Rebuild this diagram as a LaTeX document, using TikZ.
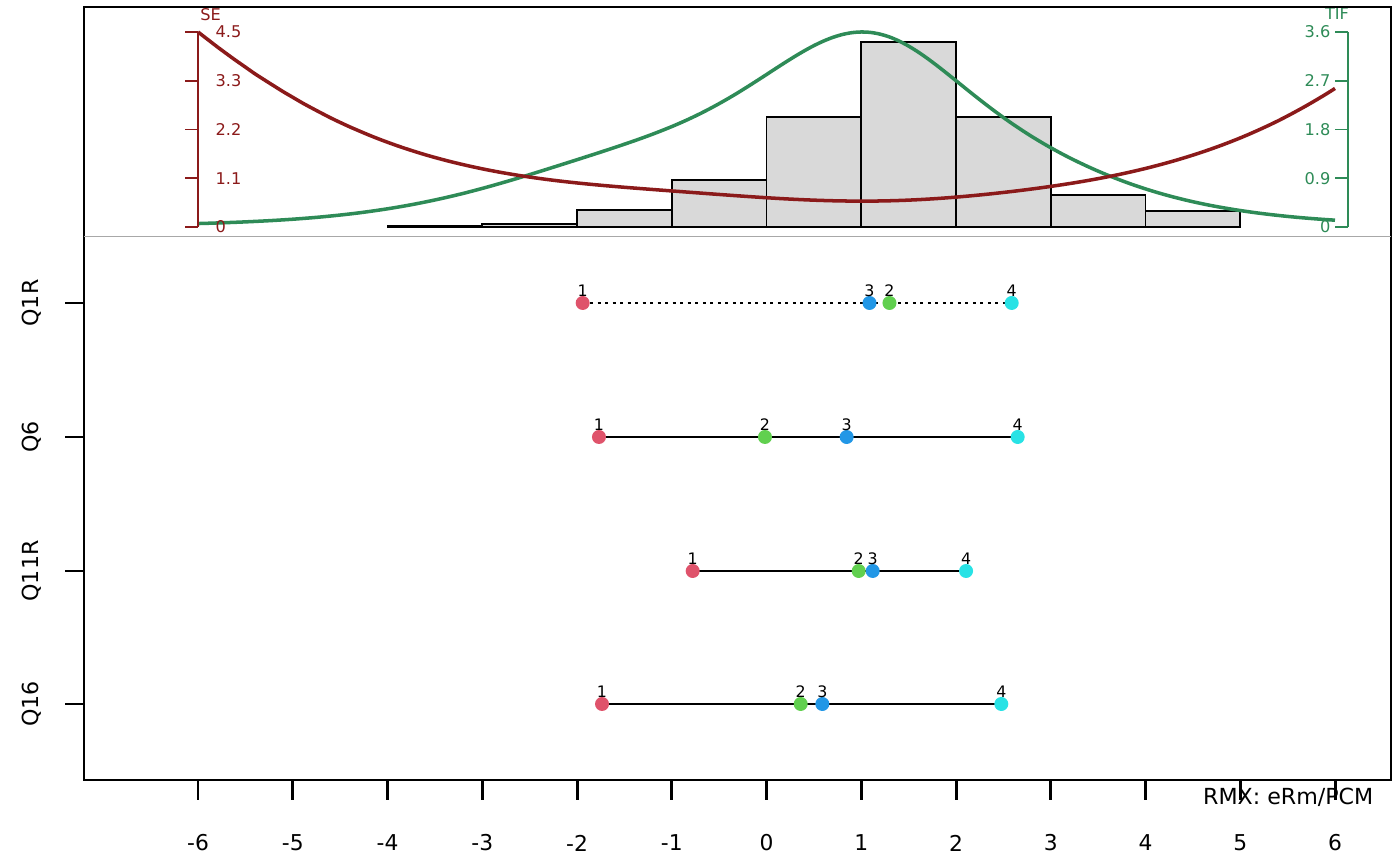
\documentclass[tikz,border=0pt]{standalone}
\usepackage{fontspec}
\setmainfont{DejaVu Sans}
\definecolor{cone}{HTML}{DF536B}
\definecolor{ctwo}{HTML}{61D04F}
\definecolor{cthree}{HTML}{2297E6}
\definecolor{cfour}{HTML}{28E2E5}
\definecolor{secol}{HTML}{8B1A1A}
\definecolor{tifcol}{HTML}{2E8B57}
\definecolor{histfill}{HTML}{D9D9D9}
\definecolor{sepgray}{HTML}{A8A8A8}
\newcommand\X[1]{766.5+94.75*(#1)}
% adds the PCM item information (score variance) at theta #1 to \tifacc
\newcommand\addivar[5]{%
  \pgfmathsetmacro\vA{(#1)-(#2)}%
  \pgfmathsetmacro\vB{\vA+(#1)-(#3)}%
  \pgfmathsetmacro\vC{\vB+(#1)-(#4)}%
  \pgfmathsetmacro\vD{\vC+(#1)-(#5)}%
  \pgfmathsetmacro\vM{max(0,\vA,\vB,\vC,\vD)}%
  \pgfmathsetmacro\eZ{exp(max(0-\vM,-9))}%
  \pgfmathsetmacro\eA{exp(max(\vA-\vM,-9))}%
  \pgfmathsetmacro\eB{exp(max(\vB-\vM,-9))}%
  \pgfmathsetmacro\eC{exp(max(\vC-\vM,-9))}%
  \pgfmathsetmacro\eD{exp(max(\vD-\vM,-9))}%
  \pgfmathsetmacro\eS{\eZ+\eA+\eB+\eC+\eD}%
  \pgfmathsetmacro\eMu{(\eA+2*\eB+3*\eC+4*\eD)/\eS}%
  \pgfmathsetmacro\eVar{(\eZ*(\eMu)^2+\eA*(1-\eMu)^2+\eB*(2-\eMu)^2+\eC*(3-\eMu)^2+\eD*(4-\eMu)^2)/\eS}%
  \pgfmathsetmacro\tifacc{\tifacc+\eVar}%
  \global\let\tifacc\tifacc
}
\begin{document}
\begin{tikzpicture}[x=0.01cm,y=-0.01cm,
  plotframe/.style={line width=0.55pt},
  histbar/.style={draw=black,fill=histfill,line width=0.5pt},
  securve/.style={draw=secol,line width=1pt,line join=round},
  tifcurve/.style={draw=tifcol,line width=1pt,line join=round},
  seaxis/.style={draw=secol,line width=0.5pt},
  tifaxis/.style={draw=tifcol,line width=0.5pt},
  selab/.style={text=secol,font=\fontsize{4.6}{5}\selectfont,inner sep=0},
  tiflab/.style={text=tifcol,font=\fontsize{4.6}{5}\selectfont,inner sep=0},
  axtick/.style={line width=0.85pt},
  ticklab/.style={font=\fontsize{6.2}{7}\selectfont,inner sep=0},
  itemlab/.style={font=\fontsize{6.3}{7}\selectfont,rotate=90,inner sep=0},
  thrpt/.style={circle,inner sep=0,minimum size=0.14cm},
  thrlab/.style={font=\fontsize{4.5}{5}\selectfont,inner sep=0,anchor=base},
  thrline/.style={line width=0.7pt},
  disordered/.style={line width=0.7pt,dash pattern=on 0.03cm off 0.045cm}]
\useasboundingbox (0,0) rectangle (1400,865);

% ---- test information and standard error ----
\gdef\tifmax{0}
\foreach \i in {0,...,120}{%
  \pgfmathsetmacro\thv{-6+\i/10}%
  \gdef\tifacc{0}%
  \addivar{\thv}{-1.940}{1.298}{1.087}{2.588}%
  \addivar{\thv}{-1.768}{-0.016}{0.846}{2.651}%
  \addivar{\thv}{-0.779}{0.973}{1.121}{2.106}%
  \addivar{\thv}{-1.736}{0.361}{0.589}{2.478}%
  \expandafter\xdef\csname tifv\i\endcsname{\tifacc}%
  \pgfmathsetmacro\tmpm{max(\tifmax,\tifacc)}%
  \global\let\tifmax\tmpm
}
\pgfmathsetmacro\semax{1/sqrt(\csname tifv0\endcsname)}
\global\let\semax\semax
\gdef\tifpath{}\gdef\sepath{}
\foreach \i in {0,...,120}{%
  \pgfmathsetmacro\px{766.5+9.475*(\i-60)}%
  \edef\tv{\csname tifv\i\endcsname}%
  \pgfmathsetmacro\ty{227-195*\tv/\tifmax}%
  \pgfmathsetmacro\sy{227-195/sqrt(\tv)/\semax}%
  \xdef\tifpath{\tifpath (\px,\ty)}%
  \xdef\sepath{\sepath (\px,\sy)}%
}

% ---- histogram ----
\foreach \k/\top in {-4/226,-3/224,-2/210.3,-1/180,0/117,1/42,2/117,3/194.7,4/210.7}{%
  \draw[histbar] ({\X{\k}},\top) rectangle ({\X{\k+1}},227);
}

% ---- curves ----
\edef\drawcurves{\noexpand\draw[tifcurve] plot[smooth] coordinates {\tifpath};
  \noexpand\draw[securve] plot[smooth] coordinates {\sepath};}
\drawcurves

% ---- SE axis ----
\draw[seaxis] (198,32) -- (198,227);
\foreach \j/\lab in {0/4.5,1/3.3,2/2.2,3/1.1,4/0}{%
  \draw[seaxis] (185,{32+48.75*\j}) -- (198,{32+48.75*\j});
  \node[selab,anchor=west] (se\j) at (215,{32+48.75*\j}) {\lab};
}
\node[selab] (setitle) at (210.5,15) {SE};

% ---- TIF axis ----
\draw[tifaxis] (1348,32) -- (1348,227);
\foreach \j/\lab in {0/3.6,1/2.7,2/1.8,3/0.9,4/0}{%
  \draw[tifaxis] (1335,{32+48.75*\j}) -- (1348,{32+48.75*\j});
  \node[tiflab,anchor=east] (tif\j) at (1331,{32+48.75*\j}) {\lab};
}
\node[tiflab] (tiftitle) at (1337,14) {TIF};

% ---- frame ----
\draw[plotframe] (84,7) rectangle (1391,780);
\draw[sepgray,line width=0.55pt] (84,236.5) -- (1391,236.5);

% ---- bottom axis ----
\foreach \k in {-6,...,6}{%
  \draw[axtick] ({\X{\k}},780) -- ({\X{\k}},800);
  \node[ticklab] (xl\k) at ({\X{\k}},843) {\k};
}
\node[ticklab,anchor=east,font=\fontsize{6.3}{7}\selectfont] (rmx) at (1374,797) {RMX: eRm/PCM};

% ---- items ----
\foreach \nm/\txt/\yy/\da/\db/\dc/\dd/\ls in {
  a/Q1R/303/-1.940/1.298/1.087/2.588/disordered,
  b/Q6/437/-1.768/-0.016/0.846/2.651/thrline,
  c/Q11R/571/-0.779/0.973/1.121/2.106/thrline,
  d/Q16/704/-1.736/0.361/0.589/2.478/thrline}{%
  \draw[plotframe] (65,\yy) -- (84,\yy);
  \node[itemlab] (lab\nm) at (32,\yy) {\txt};
  \coordinate (\nm lo) at ({\X{\da}},\yy);
  \coordinate (\nm hi) at ({\X{\dd}},\yy);
  \draw[\ls] (\nm lo) -- (\nm hi);
  \node[thrpt,fill=cone]   (\nm1) at ({\X{\da}},\yy) {};
  \node[thrpt,fill=ctwo]   (\nm2) at ({\X{\db}},\yy) {};
  \node[thrpt,fill=cthree] (\nm3) at ({\X{\dc}},\yy) {};
  \node[thrpt,fill=cfour]  (\nm4) at ({\X{\dd}},\yy) {};
  \node[thrlab] (\nm t1) at ({\X{\da}},\yy-6.5) {1};
  \node[thrlab] (\nm t2) at ({\X{\db}},\yy-6.5) {2};
  \node[thrlab] (\nm t3) at ({\X{\dc}},\yy-6.5) {3};
  \node[thrlab] (\nm t4) at ({\X{\dd}},\yy-6.5) {4};
}
\end{tikzpicture}
\end{document}
